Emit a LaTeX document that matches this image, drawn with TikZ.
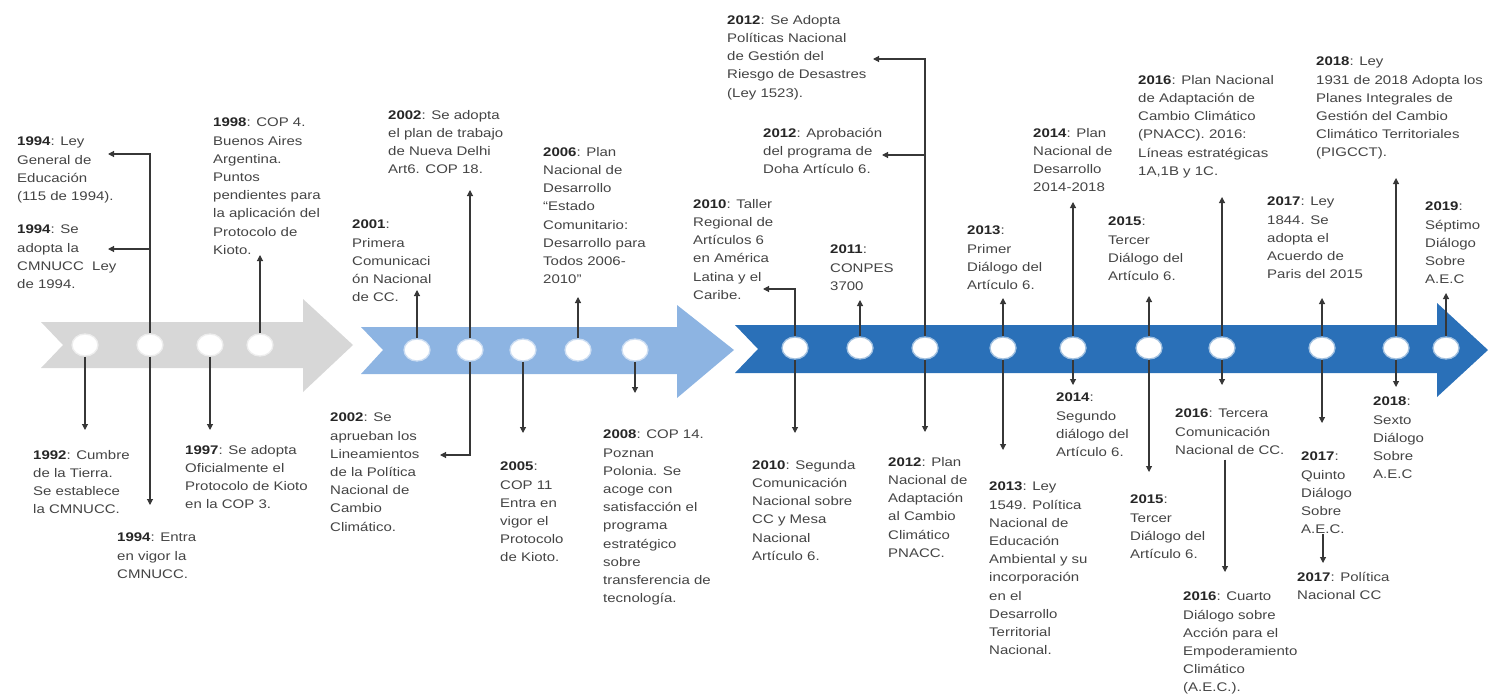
\documentclass[tikz,border=0pt]{standalone}
\usepackage{fontspec}
\setmainfont{Liberation Sans}[FakeStretch=1.2]
\usetikzlibrary{arrows.meta,shapes.geometric}
\definecolor{bandgray}{RGB}{215,215,215}
\definecolor{bandlight}{RGB}{141,180,226}
\definecolor{banddark}{RGB}{42,112,184}
\definecolor{linegray}{RGB}{55,55,55}
\definecolor{textgray}{RGB}{68,68,68}
\newcommand\yrb[1]{\textbf{\color{black!85}#1}}
\begin{document}
\begin{tikzpicture}[x=1pt,y=-1pt,
  dot/.style={ellipse,minimum width=26pt,minimum height=22pt,inner sep=0pt,
              fill=white,draw=white!55!#1,line width=1.3pt},
  conn/.style={draw=linegray,line width=1.1pt,-{Triangle[width=6pt,length=6pt]}},
  txt/.style={anchor=north west,inner sep=0pt,align=left,text=textgray,
              font=\fontsize{12.5}{18.2}\selectfont},
]
\useasboundingbox (0,0) rectangle (1488,698);

% three chevron bands
\fill[bandgray]  (41,322) -- (303,322) -- (303,299) -- (353,345) -- (303,392)
                 -- (303,368) -- (41,368) -- (63,345) -- cycle;
\fill[bandlight] (361,327) -- (677,327) -- (677,305) -- (734,350) -- (677,398)
                 -- (677,374) -- (361,374) -- (383,350) -- cycle;
\fill[banddark]  (735,325) -- (1437,325) -- (1437,303) -- (1488,350) -- (1437,397)
                 -- (1437,373) -- (735,373) -- (758,349) -- cycle;

% milestones on the bands
\node[dot=bandgray] (c1) at (85,345) {};
\node[dot=bandgray] (c2) at (150,345) {};
\node[dot=bandgray] (c3) at (210,345) {};
\node[dot=bandgray] (c4) at (260,345) {};
\node[dot=bandlight] (d1) at (417,350) {};
\node[dot=bandlight] (d2) at (470,350) {};
\node[dot=bandlight] (d3) at (523,350) {};
\node[dot=bandlight] (d4) at (578,350) {};
\node[dot=bandlight] (d5) at (635,350) {};
\node[dot=banddark] (e1) at (795,348) {};
\node[dot=banddark] (e2) at (860,348) {};
\node[dot=banddark] (e3) at (925,348) {};
\node[dot=banddark] (e4) at (1003,348) {};
\node[dot=banddark] (e5) at (1073,348) {};
\node[dot=banddark] (e6) at (1149,348) {};
\node[dot=banddark] (e7) at (1222,348) {};
\node[dot=banddark] (e8) at (1322,348) {};
\node[dot=banddark] (e9) at (1396,348) {};
\node[dot=banddark] (e10) at (1446,348) {};

% event texts
\node[txt] (t1992) at (33,450) {\yrb{1992}: Cumbre\\de la Tierra.\\Se establece\\la CMNUCC.};
\node[txt] (t1994a) at (17,137) {\yrb{1994}: Ley\\General de\\Educación\\(115 de 1994).};
\node[txt] (t1994b) at (17,225) {\yrb{1994}: Se\\adopta la\\CMNUCC\ \ Ley\\de 1994.};
\node[txt] (t1994c) at (117,533) {\yrb{1994}: Entra\\en vigor la\\CMNUCC.};
\node[txt] (t1997) at (185,445) {\yrb{1997}: Se adopta\\Oficialmente el\\Protocolo de Kioto\\en la COP 3.};
\node[txt] (t1998) at (213,118) {\yrb{1998}: COP 4.\\Buenos Aires\\Argentina.\\Puntos\\pendientes para\\la aplicación del\\Protocolo de\\Kioto.};

\node[txt] (t2001) at (352,220) {\yrb{2001}:\\Primera\\Comunicaci\\ón Nacional\\de CC.};
\node[txt] (t2002a) at (388,110) {\yrb{2002}: Se adopta\\el plan de trabajo\\de Nueva Delhi\\Art6. COP 18.};
\node[txt] (t2002b) at (330,413) {\yrb{2002}: Se\\aprueban los\\Lineamientos\\de la Política\\Nacional de\\Cambio\\Climático.};
\node[txt] (t2005) at (500,462) {\yrb{2005}:\\COP 11\\Entra en\\vigor el\\Protocolo\\de Kioto.};
\node[txt] (t2006) at (543,147) {\yrb{2006}: Plan\\Nacional de\\Desarrollo\\“Estado\\Comunitario:\\Desarrollo para\\Todos 2006-\\2010”};
\node[txt] (t2008) at (603,430) {\yrb{2008}: COP 14.\\Poznan\\Polonia. Se\\acoge con\\satisfacción el\\programa\\estratégico\\sobre\\transferencia de\\tecnología.};

\node[txt] (t2010a) at (693,199) {\yrb{2010}: Taller\\Regional de\\Artículos 6\\en América\\Latina y el\\Caribe.};
\node[txt] (t2011) at (830,245) {\yrb{2011}:\\CONPES\\3700};
\node[txt] (t2012a) at (727,15) {\yrb{2012}: Se Adopta\\Políticas Nacional\\de Gestión del\\Riesgo de Desastres\\(Ley 1523).};
\node[txt] (t2012b) at (763,128) {\yrb{2012}: Aprobación\\del programa de\\Doha Artículo 6.};
\node[txt] (t2010b) at (752,460) {\yrb{2010}: Segunda\\Comunicación\\Nacional sobre\\CC y Mesa\\Nacional\\Artículo 6.};
\node[txt] (t2012c) at (888,457) {\yrb{2012}: Plan\\Nacional de\\Adaptación\\al Cambio\\Climático\\PNACC.};
\node[txt] (t2013a) at (967,226) {\yrb{2013}:\\Primer\\Diálogo del\\Artículo 6.};
\node[txt] (t2013b) at (989,482) {\yrb{2013}: Ley\\1549. Política\\Nacional de\\Educación\\Ambiental y su\\incorporación\\en el\\Desarrollo\\Territorial\\Nacional.};
\node[txt] (t2014a) at (1033,128) {\yrb{2014}: Plan\\Nacional de\\Desarrollo\\2014-2018};
\node[txt] (t2014b) at (1056,393) {\yrb{2014}:\\Segundo\\diálogo del\\Artículo 6.};
\node[txt] (t2015a) at (1108,217) {\yrb{2015}:\\Tercer\\Diálogo del\\Artículo 6.};
\node[txt] (t2015b) at (1130,495) {\yrb{2015}:\\Tercer\\Diálogo del\\Artículo 6.};
\node[txt] (t2016a) at (1138,75) {\yrb{2016}: Plan Nacional\\de Adaptación de\\Cambio Climático\\(PNACC). 2016:\\Líneas estratégicas\\1A,1B y 1C.};
\node[txt] (t2016b) at (1175,409) {\yrb{2016}: Tercera\\Comunicación\\Nacional de CC.};
\node[txt] (t2016c) at (1183,592) {\yrb{2016}: Cuarto\\Diálogo sobre\\Acción para el\\Empoderamiento\\Climático\\(A.E.C.).};
\node[txt] (t2017a) at (1267,197) {\yrb{2017}: Ley\\1844. Se\\adopta el\\Acuerdo de\\Paris del 2015};
\node[txt] (t2017b) at (1301,452) {\yrb{2017}:\\Quinto\\Diálogo\\Sobre\\A.E.C.};
\node[txt] (t2017c) at (1297,572) {\yrb{2017}: Política\\Nacional CC};
\node[txt] (t2018a) at (1316,57) {\yrb{2018}: Ley\\1931 de 2018 Adopta los\\Planes Integrales de\\Gestión del Cambio\\Climático Territoriales\\(PIGCCT).};
\node[txt] (t2018b) at (1373,397) {\yrb{2018}:\\Sexto\\Diálogo\\Sobre\\A.E.C};
\node[txt] (t2019) at (1425,202) {\yrb{2019}:\\Séptimo\\Diálogo\\Sobre\\A.E.C};

% arrow ends
\coordinate (a1992) at (85,430);
\coordinate (a1994a) at (108,154);
\coordinate (a1994b) at (108,249);
\coordinate (a1994c) at (150,505);
\coordinate (a1997) at (210,430);
\coordinate (a1998) at (260,255);
\coordinate (a2001) at (417,290);
\coordinate (a2002a) at (470,190);
\coordinate (a2002b) at (440,455);
\coordinate (a2005) at (523,433);
\coordinate (a2006) at (578,297);
\coordinate (a2008) at (635,393);
\coordinate (a2010a) at (763,289);
\coordinate (a2011) at (860,300);
\coordinate (a2012a) at (873,59);
\coordinate (a2012b) at (882,155);
\coordinate (a2010b) at (795,433);
\coordinate (a2012c) at (925,432);
\coordinate (a2013a) at (1003,298);
\coordinate (a2013b) at (1003,450);
\coordinate (a2014a) at (1073,202);
\coordinate (a2014b) at (1073,385);
\coordinate (a2015a) at (1149,296);
\coordinate (a2015b) at (1149,472);
\coordinate (a2016a) at (1222,197);
\coordinate (a2016b) at (1222,385);
\coordinate (a2016c) at (1225,572);
\coordinate (a2017a) at (1322,298);
\coordinate (a2017b) at (1322,423);
\coordinate (a2017c) at (1323,563);
\coordinate (a2018a) at (1396,178);
\coordinate (a2018b) at (1396,387);
\coordinate (a2019) at (1446,293);

% connectors
\draw[conn] (c1) -- (a1992);
\draw[conn] (c2) |- (a1994a);
\draw[conn] (c2 |- a1994b) -- (a1994b);
\draw[conn] (c2) -- (a1994c);
\draw[conn] (c3) -- (a1997);
\draw[conn] (c4) -- (a1998);
\draw[conn] (d1) -- (a2001);
\draw[conn] (d2) -- (a2002a);
\draw[conn] (d2) |- (a2002b);
\draw[conn] (d3) -- (a2005);
\draw[conn] (d4) -- (a2006);
\draw[conn] (d5) -- (a2008);
\draw[conn] (e1) |- (a2010a);
\draw[conn] (e1) -- (a2010b);
\draw[conn] (e2) -- (a2011);
\draw[conn] (e3) |- (a2012a);
\draw[conn] (e3 |- a2012b) -- (a2012b);
\draw[conn] (e3) -- (a2012c);
\draw[conn] (e4) -- (a2013a);
\draw[conn] (e4) -- (a2013b);
\draw[conn] (e5) -- (a2014a);
\draw[conn] (e5) -- (a2014b);
\draw[conn] (e6) -- (a2015a);
\draw[conn] (e6) -- (a2015b);
\draw[conn] (e7) -- (a2016a);
\draw[conn] (e7) -- (a2016b);
\draw[conn,shorten <=5pt] (a2016c |- t2016b.south) -- (a2016c);
\draw[conn] (e8) -- (a2017a);
\draw[conn] (e8) -- (a2017b);
\draw[conn] (a2017c |- t2017b.south) -- (a2017c);
\draw[conn] (e9) -- (a2018a);
\draw[conn] (e9) -- (a2018b);
\draw[conn] (e10) -- (a2019);
\end{tikzpicture}
\end{document}
